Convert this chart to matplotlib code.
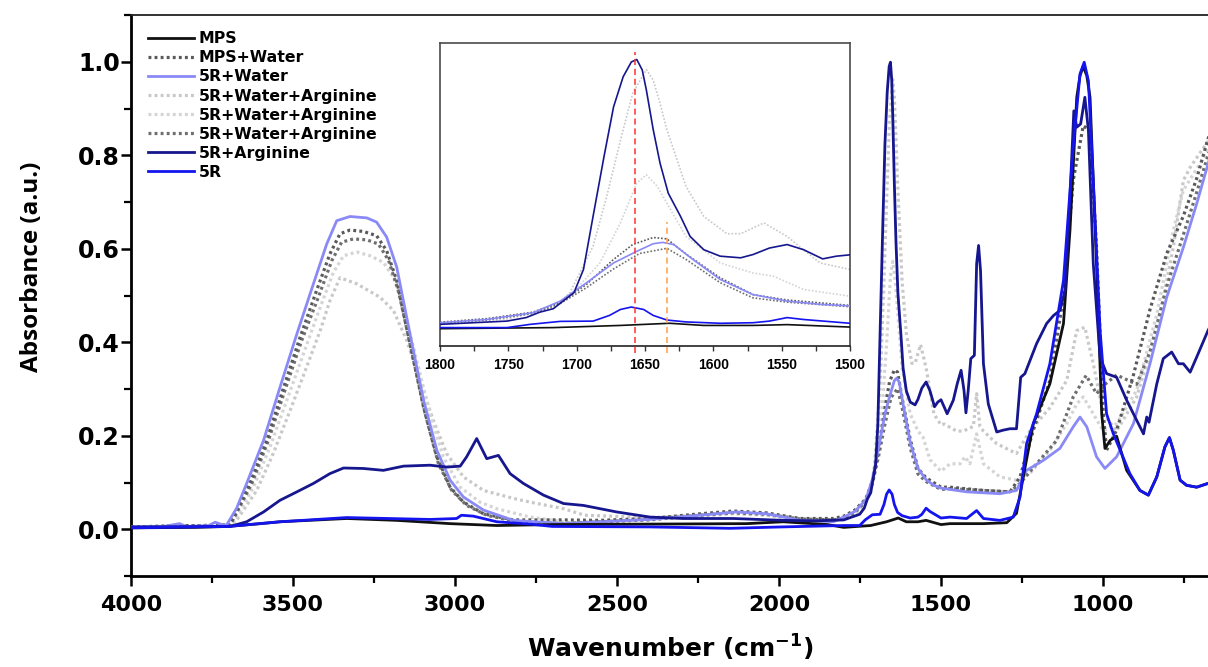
import numpy as np
import matplotlib
matplotlib.use("Agg")
import matplotlib.pyplot as plt
from matplotlib.ticker import MultipleLocator, FormatStrFormatter

plt.rcParams['font.family'] = ['DejaVu Sans']
plt.rcParams['font.weight'] = 'bold'
plt.rcParams['mathtext.fontset'] = 'dejavusans'
plt.rcParams['mathtext.default'] = 'bf'

# ---- spectra (wavenumber cm-1, absorbance a.u.) ----
wn_mps = [4000, 3800, 3700, 3600, 3540, 3334, 3180, 3015, 2871, 2700, 2400, 2100, 1987, 1850, 1800,
          1717, 1668, 1632, 1607, 1571, 1546, 1500, 1472, 1369, 1297, 1267, 1246, 1215, 1164, 1122,
          1102, 1081, 1071, 1061, 1050, 1040, 1020, 1004, 994, 978, 958, 927, 886, 860, 834, 809, 795,
          783, 762, 742, 711, 676, 650]
abs_mps = [0.003, 0.004, 0.006, 0.012, 0.016, 0.023, 0.019, 0.012, 0.008, 0.010, 0.011, 0.012, 0.016, 0.010, 0.004,
           0.008, 0.016, 0.024, 0.016, 0.016, 0.019, 0.010, 0.012, 0.012, 0.014, 0.034, 0.112, 0.226, 0.311, 0.440,
           0.639, 0.924, 0.970, 0.990, 0.970, 0.924, 0.568, 0.247, 0.173, 0.190, 0.199, 0.126, 0.083, 0.073, 0.112, 0.176, 0.196,
           0.169, 0.105, 0.094, 0.090, 0.098, 0.100]

wn_mps_water = [4000, 3694, 3633, 3581, 3530, 3478, 3427, 3386, 3355, 3324, 3283, 3242, 3211, 3180, 3139,
                3097, 3056, 3015, 2974, 2912, 2820, 2665, 2553, 2398, 2244, 2141, 2038, 1935, 1832, 1800,
                1766, 1732, 1712, 1693, 1673, 1659, 1644, 1634, 1620, 1595, 1571, 1546, 1500, 1472, 1369,
                1287, 1256, 1215, 1164, 1122, 1092, 1061, 1040, 1020, 999, 989, 958, 906, 855, 803,
                752, 711, 676, 650]
abs_mps_water = [0.005, 0.009, 0.098, 0.190, 0.301, 0.411, 0.511, 0.589, 0.632, 0.640, 0.637, 0.628, 0.596, 0.532, 0.397,
                 0.261, 0.155, 0.090, 0.058, 0.033, 0.020, 0.020, 0.019, 0.023, 0.033, 0.039, 0.035, 0.023, 0.023, 0.028,
                 0.041, 0.065, 0.102, 0.167, 0.260, 0.315, 0.341, 0.336, 0.280, 0.192, 0.130, 0.110, 0.090, 0.090, 0.083,
                 0.080, 0.112, 0.212, 0.318, 0.497, 0.746, 0.863, 0.853, 0.603, 0.247, 0.169, 0.212, 0.330, 0.470, 0.590,
                 0.670, 0.750, 0.835, 0.880]

wn_5r_water = [4000, 3900, 3850, 3830, 3760, 3740, 3720, 3705, 3674, 3643, 3591, 3540, 3488, 3437, 3396,
               3365, 3324, 3272, 3242, 3211, 3180, 3139, 3097, 3056, 3015, 2974, 2912, 2820, 2665, 2400,
               2244, 2131, 2038, 1935, 1832, 1800, 1766, 1732, 1712, 1693, 1673, 1656, 1644, 1637, 1629,
               1615, 1595, 1571, 1546, 1522, 1500, 1421, 1318, 1267, 1236, 1185, 1133, 1092, 1071, 1050,
               1020, 994, 958, 906, 855, 803, 752, 711, 676, 650]
abs_5r_water = [0.005, 0.006, 0.012, 0.006, 0.008, 0.015, 0.010, 0.009, 0.045, 0.098, 0.190, 0.304, 0.418, 0.525, 0.610,
                0.660, 0.669, 0.666, 0.657, 0.625, 0.561, 0.418, 0.276, 0.169, 0.105, 0.069, 0.041, 0.019, 0.012, 0.021,
                0.030, 0.037, 0.033, 0.019, 0.016, 0.026, 0.038, 0.063, 0.106, 0.173, 0.247, 0.290, 0.318, 0.323, 0.315,
                0.260, 0.186, 0.130, 0.106, 0.094, 0.088, 0.080, 0.076, 0.083, 0.126, 0.147, 0.173, 0.219, 0.240, 0.219,
                0.155, 0.130, 0.155, 0.226, 0.354, 0.497, 0.603, 0.696, 0.781, 0.840]

wn_wa1 = [4000, 3684, 3612, 3561, 3509, 3458, 3416, 3386, 3355, 3303, 3231, 3190, 3149, 3108, 3067,
          3026, 2974, 2912, 2820, 2768, 2665, 2600, 2400, 2244, 2141, 2038, 1935, 1832, 1800, 1751,
          1717, 1705, 1688, 1678, 1668, 1659, 1649, 1644, 1639, 1634, 1620, 1607, 1590, 1580, 1563,
          1546, 1522, 1500, 1490, 1452, 1431, 1400, 1390, 1380, 1369, 1328, 1267, 1226, 1164, 1112,
          1081, 1056, 1030, 999, 958, 896, 834, 783, 752, 731, 676, 650]
abs_wa1 = [0.005, 0.009, 0.083, 0.162, 0.254, 0.347, 0.425, 0.489, 0.538, 0.525, 0.496, 0.468, 0.404, 0.318, 0.233,
           0.162, 0.112, 0.083, 0.066, 0.058, 0.044, 0.030, 0.025, 0.030, 0.036, 0.030, 0.020, 0.020, 0.024, 0.040,
           0.080, 0.137, 0.309, 0.493, 0.700, 0.874, 0.962, 0.923, 0.837, 0.740, 0.530, 0.419, 0.355, 0.355, 0.395,
           0.345, 0.247, 0.223, 0.225, 0.210, 0.210, 0.220, 0.290, 0.220, 0.210, 0.183, 0.162, 0.210, 0.260, 0.318,
           0.425, 0.432, 0.354, 0.247, 0.210, 0.283, 0.425, 0.603, 0.746, 0.774, 0.830, 0.860]

wn_wa2 = [4000, 3689, 3622, 3571, 3519, 3468, 3416, 3375, 3344, 3303, 3262, 3221, 3190, 3159, 3118,
          3077, 3036, 2984, 2923, 2871, 2768, 2645, 2500, 2300, 2141, 2038, 1935, 1832, 1800, 1751,
          1717, 1705, 1683, 1668, 1656, 1649, 1641, 1634, 1620, 1595, 1571, 1556, 1534, 1500, 1472,
          1441, 1426, 1411, 1390, 1369, 1318, 1267, 1226, 1164, 1112, 1081, 1061, 1030, 999, 958,
          896, 834, 783, 752, 676, 650]
abs_wa2 = [0.005, 0.009, 0.090, 0.176, 0.276, 0.375, 0.475, 0.550, 0.585, 0.593, 0.585, 0.571, 0.539, 0.475, 0.361,
           0.247, 0.155, 0.090, 0.058, 0.044, 0.026, 0.014, 0.018, 0.025, 0.033, 0.030, 0.020, 0.018, 0.024, 0.040,
           0.085, 0.124, 0.247, 0.395, 0.542, 0.573, 0.530, 0.468, 0.345, 0.247, 0.210, 0.198, 0.149, 0.124, 0.140,
           0.140, 0.155, 0.140, 0.204, 0.140, 0.112, 0.105, 0.119, 0.169, 0.226, 0.268, 0.283, 0.247, 0.210, 0.226,
           0.297, 0.460, 0.640, 0.725, 0.810, 0.840]

wn_wa3 = [4000, 3694, 3627, 3576, 3525, 3473, 3422, 3380, 3350, 3314, 3272, 3236, 3205, 3175, 3134,
          3092, 3051, 3010, 2964, 2902, 2809, 2665, 2553, 2398, 2244, 2141, 2038, 1935, 1832, 1800,
          1766, 1732, 1712, 1693, 1673, 1654, 1634, 1620, 1595, 1571, 1546, 1500, 1472, 1369, 1287,
          1256, 1205, 1143, 1092, 1052, 1020, 994, 958, 927, 896, 855, 803, 752, 711, 676, 650]
abs_wa3 = [0.005, 0.009, 0.098, 0.190, 0.297, 0.404, 0.496, 0.575, 0.614, 0.621, 0.619, 0.610, 0.575, 0.511, 0.382,
           0.247, 0.140, 0.083, 0.051, 0.030, 0.016, 0.012, 0.016, 0.020, 0.030, 0.035, 0.032, 0.022, 0.020, 0.024,
           0.036, 0.060, 0.097, 0.155, 0.225, 0.282, 0.301, 0.260, 0.174, 0.118, 0.102, 0.085, 0.087, 0.083, 0.080,
           0.098, 0.140, 0.190, 0.283, 0.329, 0.290, 0.310, 0.330, 0.320, 0.310, 0.380, 0.520, 0.630, 0.720, 0.800, 0.850]

wn_5r_arg = [4000, 3694, 3643, 3591, 3540, 3488, 3437, 3386, 3344, 3283, 3221, 3159, 3077, 3025, 2984,
             2964, 2933, 2902, 2866, 2830, 2789, 2727, 2665, 2604, 2501, 2398, 2295, 2141, 1987, 1884,
             1800, 1776, 1751, 1737, 1727, 1717, 1710, 1702, 1695, 1688, 1680, 1673, 1666, 1660, 1656,
             1652, 1649, 1644, 1639, 1633, 1624, 1617, 1607, 1595, 1580, 1571, 1559, 1546, 1534, 1520,
             1510, 1500, 1481, 1462, 1450, 1438, 1429, 1423, 1416, 1408, 1397, 1390, 1384, 1378, 1369,
             1354, 1328, 1308, 1287, 1267, 1254, 1241, 1205, 1174, 1153, 1133, 1117, 1102, 1090, 1081,
             1069, 1056, 1045, 1030, 1009, 989, 958, 927, 896, 875, 865, 858, 834, 814, 788,
             767, 752, 731, 711, 676, 650]
abs_5r_arg = [0.005, 0.006, 0.016, 0.037, 0.062, 0.080, 0.098, 0.119, 0.131, 0.130, 0.126, 0.135, 0.137, 0.133, 0.135,
              0.155, 0.194, 0.151, 0.158, 0.119, 0.098, 0.073, 0.055, 0.051, 0.037, 0.026, 0.023, 0.023, 0.019, 0.018,
              0.020, 0.026, 0.032, 0.045, 0.065, 0.078, 0.106, 0.137, 0.223, 0.419, 0.640, 0.824, 0.935, 0.990, 0.999,
              0.960, 0.886, 0.740, 0.616, 0.505, 0.419, 0.345, 0.296, 0.272, 0.266, 0.278, 0.302, 0.315, 0.296, 0.262,
              0.272, 0.277, 0.247, 0.276, 0.311, 0.340, 0.297, 0.249, 0.297, 0.365, 0.372, 0.568, 0.607, 0.553, 0.354,
              0.268, 0.208, 0.212, 0.215, 0.215, 0.325, 0.333, 0.397, 0.440, 0.457, 0.468, 0.511, 0.710, 0.895, 0.860,
              0.867, 0.924, 0.853, 0.568, 0.368, 0.333, 0.325, 0.276, 0.233, 0.204, 0.240, 0.229, 0.311, 0.365, 0.379,
              0.354, 0.354, 0.336, 0.368, 0.425, 0.460]

wn_5r = [4000, 3900, 3800, 3700, 3540, 3334, 3077, 2995, 2980, 2943, 2871, 2768, 2700, 2400, 2150,
         1990, 1800, 1751, 1734, 1712, 1688, 1676, 1668, 1660, 1651, 1644, 1634, 1620, 1595, 1571,
         1559, 1546, 1534, 1500, 1472, 1421, 1390, 1369, 1318, 1277, 1256, 1236, 1205, 1164, 1122,
         1092, 1071, 1058, 1045, 1030, 1009, 989, 968, 947, 917, 886, 860, 834, 809, 795,
         783, 762, 742, 711, 676, 650]
abs_5r = [0.003, 0.004, 0.005, 0.006, 0.016, 0.025, 0.021, 0.023, 0.030, 0.028, 0.016, 0.011, 0.006, 0.005, 0.002,
          0.005, 0.008, 0.008, 0.020, 0.031, 0.032, 0.053, 0.075, 0.084, 0.075, 0.053, 0.036, 0.029, 0.024, 0.026,
          0.032, 0.045, 0.038, 0.024, 0.026, 0.023, 0.040, 0.023, 0.019, 0.026, 0.069, 0.183, 0.247, 0.354, 0.532,
          0.817, 0.974, 0.999, 0.959, 0.746, 0.425, 0.247, 0.204, 0.169, 0.119, 0.083, 0.073, 0.112, 0.176, 0.196,
          0.169, 0.105, 0.094, 0.090, 0.098, 0.100]

# marked band positions in the zoomed panel
amide_peak = 1657
water_peak = 1634

# label, x, y, colour, dotted?, zorder
spectra = [
    ('MPS', wn_mps, abs_mps, '#111111', False, 5),
    ('MPS+Water', wn_mps_water, abs_mps_water, '#595959', True, 3),
    ('5R+Water', wn_5r_water, abs_5r_water, '#8a8af7', False, 4),
    ('5R+Water+Arginine', wn_wa1, abs_wa1, '#c8c8c8', True, 1),
    ('5R+Water+Arginine', wn_wa2, abs_wa2, '#d4d4d4', True, 1),
    ('5R+Water+Arginine', wn_wa3, abs_wa3, '#6e6e6e', True, 2),
    ('5R+Arginine', wn_5r_arg, abs_5r_arg, '#16168e', False, 6),
    ('5R', wn_5r, abs_5r, '#1414ee', False, 7),
]

W, H = 1208, 667
fig = plt.figure(figsize=(W / 100, H / 100), dpi=100)
fig.patch.set_facecolor('white')

# main axes: x from 4000 to 650, right spine falls just outside the picture
ax = fig.add_axes([131 / W, (H - 576) / H, 1085.4 / W, 561 / H])

handles = []
for label, x, y, col, dotted, z in spectra:
    if dotted:
        ln, = ax.plot(x, y, color=col, lw=2.3, ls=(0, (0.9, 1.0)), dash_capstyle='butt',
                      zorder=z, label=label)
    else:
        ln, = ax.plot(x, y, color=col, lw=2.0, zorder=z, label=label)
    handles.append(ln)

ax.set_xlim(4000, 650)
ax.set_ylim(-0.1, 1.1)
ax.xaxis.set_major_locator(MultipleLocator(500))
ax.xaxis.set_minor_locator(MultipleLocator(250))
ax.yaxis.set_major_locator(MultipleLocator(0.2))
ax.yaxis.set_minor_locator(MultipleLocator(0.1))
ax.yaxis.set_major_formatter(FormatStrFormatter('%.1f'))
ax.tick_params(which='major', direction='out', length=7.5, width=1.8)
ax.tick_params(which='minor', direction='out', length=4.8, width=1.6)
ax.tick_params(axis='x', which='major', labelsize=16, pad=6)
ax.tick_params(axis='y', which='major', labelsize=17, pad=0.5)
for s in ['left', 'bottom']:
    ax.spines[s].set_linewidth(2.0)
ax.spines['top'].set_linewidth(1.3)
ax.spines['top'].set_color('#222222')
ax.spines['right'].set_visible(False)

ax.set_xlabel(r'Wavenumber (cm$^{-1}$)', fontsize=18, fontweight='bold', va='center')
ax.xaxis.set_label_coords(0.497, -0.128)
ax.set_ylabel('Absorbance (a.u.)', family='Open Sans', fontweight='bold', fontsize=17.5, va='center')
ax.yaxis.set_label_coords(-0.091, 0.551)

ax.legend(handles=handles, loc='upper left', bbox_to_anchor=(0.0157, 0.971), frameon=False,
          prop={'weight': 'bold', 'size': 11.3}, handlelength=2.9, handletextpad=0.32,
          labelspacing=0.26, borderpad=0, borderaxespad=0)

# zoom on the amide I region
ax_in = fig.add_axes([440 / W, (H - 346) / H, 410 / W, 303 / H])
ax_in.set_facecolor('white')
for label, x, y, col, dotted, z in spectra:
    if dotted:
        ax_in.plot(x, y, color=col, lw=1.2, ls=(0, (1, 1.1)), dash_capstyle='butt', zorder=z)
    else:
        ax_in.plot(x, y, color=col, lw=1.2, zorder=z)
ax_in.plot([amide_peak, amide_peak], [-0.087, 1.027], color='#ff3030', lw=1.1,
           ls=(0, (4, 2.5)), clip_on=False, zorder=8)
ax_in.plot([water_peak, water_peak], [-0.087, 0.397], color='#ffa040', lw=1.1,
           ls=(0, (4, 2.5)), clip_on=False, zorder=8)
ax_in.set_xlim(1800, 1500)
ax_in.set_ylim(-0.06, 1.06)
ax_in.set_yticks([])
ax_in.xaxis.set_major_locator(MultipleLocator(50))
ax_in.xaxis.set_minor_locator(MultipleLocator(25))
ax_in.tick_params(axis='x', which='both', direction='out', length=3.6, width=1.0, pad=5,
                  color='#333333')
for lbl in ax_in.get_xticklabels():
    lbl.set_family('Liberation Sans')
    lbl.set_fontweight('bold')
    lbl.set_fontsize(10)
for s in ax_in.spines.values():
    s.set_linewidth(1.2)
    s.set_color('#4a4a4a')
ax_in.spines['bottom'].set_color('#222222')

fig.savefig('out.png', dpi=100)
